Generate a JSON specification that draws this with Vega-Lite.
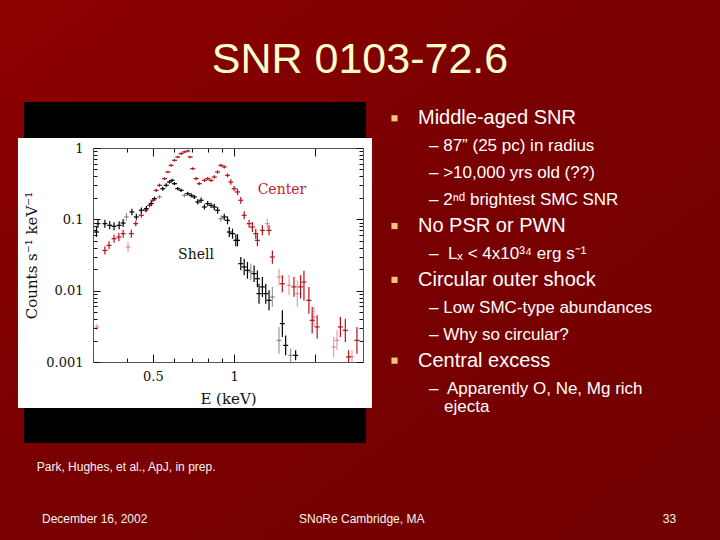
{
"$schema": "https://vega.github.io/schema/vega-lite/v6.json",
"width": 270, "height": 214,
"autosize": {"type": "none"},
"padding": {"left": 93, "top": 148, "right": 357, "bottom": 178},
"background": "#7a0000",
"config": {"view": {"stroke": null}},
"datasets": {
"spectrum": [
{"src":"Center","det":"B","keV":0.31,"rate":0.0031,"lo":0.0028,"hi":0.0034},
{"src":"Center","det":"A","keV":0.332,"rate":0.0367,"lo":0.0322,"hi":0.0418},
{"src":"Center","det":"A","keV":0.344,"rate":0.0432,"lo":0.038,"hi":0.0492},
{"src":"Center","det":"A","keV":0.359,"rate":0.0536,"lo":0.0471,"hi":0.061},
{"src":"Center","det":"A","keV":0.374,"rate":0.0565,"lo":0.0497,"hi":0.0643},
{"src":"Center","det":"A","keV":0.388,"rate":0.063,"lo":0.0554,"hi":0.0717},
{"src":"Center","det":"B","keV":0.4045,"rate":0.0409,"lo":0.0348,"hi":0.048},
{"src":"Center","det":"A","keV":0.416,"rate":0.063,"lo":0.0554,"hi":0.0717},
{"src":"Center","det":"A","keV":0.432,"rate":0.087,"lo":0.0798,"hi":0.0948},
{"src":"Center","det":"A","keV":0.453,"rate":0.114,"lo":0.105,"hi":0.124},
{"src":"Center","det":"A","keV":0.47,"rate":0.134,"lo":0.126,"hi":0.143},
{"src":"Center","det":"A","keV":0.486,"rate":0.157,"lo":0.147,"hi":0.168},
{"src":"Center","det":"A","keV":0.5,"rate":0.185,"lo":0.173,"hi":0.197},
{"src":"Center","det":"A","keV":0.514,"rate":0.255,"lo":0.242,"hi":0.269},
{"src":"Center","det":"A","keV":0.529,"rate":0.3,"lo":0.284,"hi":0.317},
{"src":"Center","det":"A","keV":0.552,"rate":0.372,"lo":0.356,"hi":0.388},
{"src":"Center","det":"A","keV":0.568,"rate":0.461,"lo":0.442,"hi":0.481},
{"src":"Center","det":"A","keV":0.584,"rate":0.571,"lo":0.547,"hi":0.596},
{"src":"Center","det":"A","keV":0.601,"rate":0.672,"lo":0.644,"hi":0.702},
{"src":"Center","det":"A","keV":0.618,"rate":0.748,"lo":0.716,"hi":0.781},
{"src":"Center","det":"A","keV":0.636,"rate":0.833,"lo":0.798,"hi":0.87},
{"src":"Center","det":"A","keV":0.654,"rate":0.879,"lo":0.842,"hi":0.918},
{"src":"Center","det":"A","keV":0.673,"rate":0.908,"lo":0.87,"hi":0.948},
{"src":"Center","det":"A","keV":0.687,"rate":0.748,"lo":0.716,"hi":0.781},
{"src":"Center","det":"A","keV":0.702,"rate":0.513,"lo":0.491,"hi":0.536},
{"src":"Center","det":"A","keV":0.723,"rate":0.372,"lo":0.353,"hi":0.392},
{"src":"Center","det":"A","keV":0.743,"rate":0.316,"lo":0.3,"hi":0.333},
{"src":"Center","det":"A","keV":0.776,"rate":0.352,"lo":0.334,"hi":0.371},
{"src":"Center","det":"A","keV":0.798,"rate":0.372,"lo":0.353,"hi":0.392},
{"src":"Center","det":"A","keV":0.821,"rate":0.352,"lo":0.334,"hi":0.371},
{"src":"Center","det":"A","keV":0.844,"rate":0.392,"lo":0.372,"hi":0.414},
{"src":"Center","det":"A","keV":0.868,"rate":0.461,"lo":0.437,"hi":0.486},
{"src":"Center","det":"A","keV":0.893,"rate":0.571,"lo":0.541,"hi":0.602},
{"src":"Center","det":"A","keV":0.919,"rate":0.542,"lo":0.514,"hi":0.572},
{"src":"Center","det":"A","keV":0.945,"rate":0.414,"lo":0.388,"hi":0.442},
{"src":"Center","det":"A","keV":0.972,"rate":0.334,"lo":0.306,"hi":0.364},
{"src":"Center","det":"A","keV":1.0,"rate":0.269,"lo":0.247,"hi":0.293},
{"src":"Center","det":"A","keV":1.029,"rate":0.242,"lo":0.217,"hi":0.27},
{"src":"Center","det":"A","keV":1.058,"rate":0.185,"lo":0.166,"hi":0.206},
{"src":"Center","det":"A","keV":1.089,"rate":0.114,"lo":0.1,"hi":0.13},
{"src":"Center","det":"A","keV":1.136,"rate":0.087,"lo":0.0765,"hi":0.099},
{"src":"Center","det":"A","keV":1.168,"rate":0.0781,"lo":0.0665,"hi":0.0918},
{"src":"Center","det":"A","keV":1.202,"rate":0.063,"lo":0.0536,"hi":0.074},
{"src":"Center","det":"A","keV":1.219,"rate":0.0508,"lo":0.0418,"hi":0.0617},
{"src":"Center","det":"A","keV":1.272,"rate":0.0701,"lo":0.0597,"hi":0.0824},
{"src":"Center","det":"B","keV":1.327,"rate":0.087,"lo":0.074,"hi":0.102},
{"src":"Center","det":"A","keV":1.346,"rate":0.0701,"lo":0.0597,"hi":0.0824},
{"src":"Center","det":"A","keV":1.385,"rate":0.0296,"lo":0.0239,"hi":0.0367},
{"src":"Center","det":"B","keV":1.466,"rate":0.0155,"lo":0.0118,"hi":0.0203},
{"src":"Center","det":"A","keV":1.508,"rate":0.0125,"lo":0.0095,"hi":0.0164},
{"src":"Center","det":"B","keV":1.596,"rate":0.0119,"lo":0.0086,"hi":0.0164},
{"src":"Center","det":"A","keV":1.665,"rate":0.0113,"lo":0.0082,"hi":0.0156},
{"src":"Center","det":"B","keV":1.713,"rate":0.00908,"lo":0.0059,"hi":0.014},
{"src":"Center","det":"A","keV":1.762,"rate":0.0113,"lo":0.00776,"hi":0.0165},
{"src":"Center","det":"A","keV":1.813,"rate":0.0132,"lo":0.0073,"hi":0.019},
{"src":"Center","det":"A","keV":1.891,"rate":0.00732,"lo":0.00476,"hi":0.0113},
{"src":"Center","det":"A","keV":1.945,"rate":0.00384,"lo":0.0025,"hi":0.0059},
{"src":"Center","det":"B","keV":1.973,"rate":0.00427,"lo":0.0031,"hi":0.0059},
{"src":"Center","det":"A","keV":2.029,"rate":0.0031,"lo":0.00213,"hi":0.00452},
{"src":"Center","det":"B","keV":2.336,"rate":0.00162,"lo":0.00117,"hi":0.00224},
{"src":"Center","det":"B","keV":2.403,"rate":0.00201,"lo":0.00146,"hi":0.00278},
{"src":"Center","det":"A","keV":2.474,"rate":0.0031,"lo":0.00224,"hi":0.00428},
{"src":"Center","det":"A","keV":2.58,"rate":0.00278,"lo":0.00191,"hi":0.00405},
{"src":"Center","det":"A","keV":2.654,"rate":0.00118,"lo":0.00095,"hi":0.00146},
{"src":"Center","det":"B","keV":2.731,"rate":0.00118,"lo":0.00095,"hi":0.00146},
{"src":"Center","det":"A","keV":2.849,"rate":0.00201,"lo":0.00131,"hi":0.0031},
{"src":"Shell","det":"A","keV":0.309,"rate":0.0664,"lo":0.0565,"hi":0.078},
{"src":"Shell","det":"A","keV":0.313,"rate":0.087,"lo":0.0765,"hi":0.099},
{"src":"Shell","det":"A","keV":0.332,"rate":0.087,"lo":0.0765,"hi":0.099},
{"src":"Shell","det":"A","keV":0.346,"rate":0.0824,"lo":0.0724,"hi":0.0938},
{"src":"Shell","det":"A","keV":0.359,"rate":0.0798,"lo":0.0701,"hi":0.0908},
{"src":"Shell","det":"A","keV":0.375,"rate":0.0824,"lo":0.0724,"hi":0.0938},
{"src":"Shell","det":"A","keV":0.388,"rate":0.0888,"lo":0.078,"hi":0.101},
{"src":"Shell","det":"B","keV":0.399,"rate":0.108,"lo":0.095,"hi":0.123},
{"src":"Shell","det":"A","keV":0.418,"rate":0.127,"lo":0.114,"hi":0.141},
{"src":"Shell","det":"A","keV":0.434,"rate":0.108,"lo":0.097,"hi":0.12},
{"src":"Shell","det":"A","keV":0.453,"rate":0.134,"lo":0.123,"hi":0.146},
{"src":"Shell","det":"A","keV":0.473,"rate":0.141,"lo":0.129,"hi":0.154},
{"src":"Shell","det":"A","keV":0.493,"rate":0.166,"lo":0.152,"hi":0.181},
{"src":"Shell","det":"A","keV":0.507,"rate":0.195,"lo":0.183,"hi":0.208},
{"src":"Shell","det":"B","keV":0.529,"rate":0.206,"lo":0.193,"hi":0.22},
{"src":"Shell","det":"A","keV":0.544,"rate":0.269,"lo":0.252,"hi":0.287},
{"src":"Shell","det":"A","keV":0.56,"rate":0.3,"lo":0.281,"hi":0.32},
{"src":"Shell","det":"A","keV":0.576,"rate":0.334,"lo":0.317,"hi":0.352},
{"src":"Shell","det":"A","keV":0.589,"rate":0.352,"lo":0.334,"hi":0.371},
{"src":"Shell","det":"A","keV":0.601,"rate":0.316,"lo":0.3,"hi":0.333},
{"src":"Shell","det":"A","keV":0.618,"rate":0.269,"lo":0.255,"hi":0.284},
{"src":"Shell","det":"A","keV":0.636,"rate":0.255,"lo":0.242,"hi":0.269},
{"src":"Shell","det":"B","keV":0.654,"rate":0.217,"lo":0.203,"hi":0.232},
{"src":"Shell","det":"A","keV":0.673,"rate":0.229,"lo":0.215,"hi":0.244},
{"src":"Shell","det":"A","keV":0.693,"rate":0.217,"lo":0.203,"hi":0.232},
{"src":"Shell","det":"A","keV":0.712,"rate":0.206,"lo":0.193,"hi":0.22},
{"src":"Shell","det":"A","keV":0.733,"rate":0.175,"lo":0.161,"hi":0.191},
{"src":"Shell","det":"A","keV":0.754,"rate":0.185,"lo":0.17,"hi":0.202},
{"src":"Shell","det":"A","keV":0.776,"rate":0.149,"lo":0.137,"hi":0.162},
{"src":"Shell","det":"A","keV":0.798,"rate":0.166,"lo":0.152,"hi":0.181},
{"src":"Shell","det":"A","keV":0.821,"rate":0.157,"lo":0.144,"hi":0.171},
{"src":"Shell","det":"A","keV":0.844,"rate":0.149,"lo":0.134,"hi":0.166},
{"src":"Shell","det":"A","keV":0.868,"rate":0.134,"lo":0.12,"hi":0.149},
{"src":"Shell","det":"B","keV":0.893,"rate":0.102,"lo":0.0916,"hi":0.114},
{"src":"Shell","det":"A","keV":0.919,"rate":0.108,"lo":0.097,"hi":0.12},
{"src":"Shell","det":"A","keV":0.945,"rate":0.0968,"lo":0.0851,"hi":0.11},
{"src":"Shell","det":"A","keV":0.959,"rate":0.0664,"lo":0.0565,"hi":0.078},
{"src":"Shell","det":"A","keV":0.986,"rate":0.063,"lo":0.0536,"hi":0.074},
{"src":"Shell","det":"A","keV":1.014,"rate":0.0508,"lo":0.0418,"hi":0.0617},
{"src":"Shell","det":"A","keV":1.029,"rate":0.0508,"lo":0.0418,"hi":0.0617},
{"src":"Shell","det":"A","keV":1.058,"rate":0.0239,"lo":0.0193,"hi":0.0296},
{"src":"Shell","det":"A","keV":1.089,"rate":0.0215,"lo":0.0164,"hi":0.0281},
{"src":"Shell","det":"A","keV":1.12,"rate":0.0193,"lo":0.0147,"hi":0.0253},
{"src":"Shell","det":"B","keV":1.152,"rate":0.0183,"lo":0.014,"hi":0.024},
{"src":"Shell","det":"A","keV":1.185,"rate":0.0173,"lo":0.0132,"hi":0.0226},
{"src":"Shell","det":"A","keV":1.219,"rate":0.0147,"lo":0.0112,"hi":0.0192},
{"src":"Shell","det":"A","keV":1.236,"rate":0.00908,"lo":0.00657,"hi":0.0125},
{"src":"Shell","det":"A","keV":1.272,"rate":0.0113,"lo":0.00818,"hi":0.0156},
{"src":"Shell","det":"A","keV":1.309,"rate":0.00908,"lo":0.00657,"hi":0.0125},
{"src":"Shell","det":"A","keV":1.346,"rate":0.00732,"lo":0.0053,"hi":0.0101},
{"src":"Shell","det":"B","keV":1.385,"rate":0.00815,"lo":0.0059,"hi":0.0113},
{"src":"Shell","det":"B","keV":1.466,"rate":0.00201,"lo":0.00131,"hi":0.0031},
{"src":"Shell","det":"A","keV":1.508,"rate":0.00345,"lo":0.00224,"hi":0.0053},
{"src":"Shell","det":"A","keV":1.551,"rate":0.00171,"lo":0.00124,"hi":0.00236},
{"src":"Shell","det":"B","keV":1.618,"rate":0.00124,"lo":0.001,"hi":0.00154},
{"src":"Shell","det":"A","keV":1.689,"rate":0.00124,"lo":0.00106,"hi":0.00146}
],
"bullets": [
{"line":1,"level":1,"wrap":false,"text":"Middle-aged SNR"},
{"line":2,"level":2,"wrap":false,"text":"– 87” (25 pc) in radius"},
{"line":3,"level":2,"wrap":false,"text":"– >10,000 yrs old (??)"},
{"line":4,"level":2,"wrap":false,"text":"– 2ⁿᵈ brightest SMC SNR"},
{"line":5,"level":1,"wrap":false,"text":"No PSR or PWN"},
{"line":6,"level":2,"wrap":false,"text":"–\u00a0 Lₓ < 4x10³⁴ erg s⁻¹"},
{"line":7,"level":1,"wrap":false,"text":"Circular outer shock"},
{"line":8,"level":2,"wrap":false,"text":"– Low SMC-type abundances"},
{"line":9,"level":2,"wrap":false,"text":"– Why so circular?"},
{"line":10,"level":1,"wrap":false,"text":"Central excess"},
{"line":11,"level":2,"wrap":false,"text":"–\u00a0 Apparently O, Ne, Mg rich"},
{"line":11.7,"level":2,"wrap":true,"text":"ejecta"}
]
},
"layer": [
{
"layer": [
{"data": {"values": [{}]},
 "mark": {"type": "rect", "fill": {"gradient": "linear", "x1": 0, "y1": 0, "x2": 1, "y2": 1, "stops": [{"offset": 0, "color": "#8e0000"}, {"offset": 0.45, "color": "#7a0000"}, {"offset": 1, "color": "#720000"}]}},
 "encoding": {
  "x": {"datum": 0, "type": "quantitative", "scale": {"domain": [0, 1], "range": [-93, 627], "nice": false, "zero": false}, "axis": null},
  "x2": {"datum": 1},
  "y": {"datum": 0, "type": "quantitative", "scale": {"domain": [0, 1], "range": [-148, 392], "nice": false, "zero": false}, "axis": null},
  "y2": {"datum": 1}}},
{"data": {"values": [{"title": "SNR 0103-72.6"}]},
 "mark": {"type": "text", "font": "Liberation Sans", "fontSize": 43, "color": "#FFFFCC", "align": "center", "baseline": "alphabetic"},
 "encoding": {"x": {"datum": 0.5, "type": "quantitative"}, "y": {"datum": 0.1352, "type": "quantitative"}, "text": {"field": "title"}}},
{"data": {"values": [{"note": "Park, Hughes, et al., ApJ, in prep."}]},
 "mark": {"type": "text", "font": "Liberation Sans", "fontSize": 12, "color": "#F4F4F4", "align": "left", "baseline": "alphabetic"},
 "encoding": {"x": {"datum": 0.051, "type": "quantitative"}, "y": {"datum": 0.873, "type": "quantitative"}, "text": {"field": "note"}}},
{"data": {"values": [{"note": "December 16, 2002"}]},
 "mark": {"type": "text", "font": "Liberation Sans", "fontSize": 12, "color": "#F4F4F4", "align": "left", "baseline": "alphabetic"},
 "encoding": {"x": {"datum": 0.0583, "type": "quantitative"}, "y": {"datum": 0.9685, "type": "quantitative"}, "text": {"field": "note"}}},
{"data": {"values": [{"note": "SNoRe Cambridge, MA"}]},
 "mark": {"type": "text", "font": "Liberation Sans", "fontSize": 12, "color": "#F4F4F4", "align": "left", "baseline": "alphabetic"},
 "encoding": {"x": {"datum": 0.4153, "type": "quantitative"}, "y": {"datum": 0.9685, "type": "quantitative"}, "text": {"field": "note"}}},
{"data": {"values": [{"note": "33"}]},
 "mark": {"type": "text", "font": "Liberation Sans", "fontSize": 12, "color": "#F4F4F4", "align": "right", "baseline": "alphabetic"},
 "encoding": {"x": {"datum": 0.939, "type": "quantitative"}, "y": {"datum": 0.9685, "type": "quantitative"}, "text": {"field": "note"}}}
]
},
{
"layer": [
{"data": {"values": [{}]},
 "mark": {"type": "rect", "fill": "#000000"},
 "encoding": {
  "x": {"datum": 0.1665, "type": "quantitative", "scale": {"type": "log", "domain": [0.3, 3], "nice": false}, "axis": null},
  "x2": {"datum": 3.077},
  "y": {"datum": 4.415, "type": "quantitative", "scale": {"type": "log", "domain": [0.001, 1], "nice": false}, "axis": null},
  "y2": {"datum": 0.0000732}}},
{"data": {"values": [{}]},
 "mark": {"type": "rect", "fill": "#FFFFFF"},
 "encoding": {
  "x": {"datum": 0.1582, "type": "quantitative", "scale": {"type": "log", "domain": [0.3, 3], "nice": false}, "axis": null},
  "x2": {"datum": 3.238},
  "y": {"datum": 1.381, "type": "quantitative", "scale": {"type": "log", "domain": [0.001, 1], "nice": false}, "axis": null},
  "y2": {"datum": 0.0002265}}},
{"data": {"name": "spectrum"},
 "mark": {"type": "rule", "clip": true, "strokeWidth": 1.2},
 "encoding": {
  "x": {"field": "keV", "type": "quantitative", "scale": {"type": "log", "domain": [0.3, 3], "nice": false},
   "axis": {"orient": "bottom", "values": [0.4, 0.5, 0.6, 0.7, 0.8, 0.9, 1, 2], "grid": false, "zindex": 1,
    "labelExpr": "datum.value == 0.5 ? '0.5' : (datum.value == 1 ? '1' : '')",
    "tickSize": {"condition": {"test": "datum.value == 0.5 || datum.value == 1 || datum.value == 2", "value": -8}, "value": -4},
    "tickColor": "#111111", "tickWidth": 1, "domainColor": "#555555", "domainWidth": 1,
    "labelFont": "DejaVu Serif", "labelFontSize": 13, "labelColor": "#111111", "labelPadding": 16, "labelFlush": false, "labelOverlap": false,
    "title": "E (keV)", "titleFont": "DejaVu Serif", "titleFontSize": 15, "titleFontWeight": "normal", "titleColor": "#111111", "titlePadding": 4}},
  "y": {"field": "lo", "type": "quantitative", "scale": {"type": "log", "domain": [0.001, 1], "nice": false},
   "axis": {"orient": "left", "values": [0.001, 0.002, 0.003, 0.004, 0.005, 0.006, 0.007, 0.008, 0.009, 0.01, 0.02, 0.03, 0.04, 0.05, 0.06, 0.07, 0.08, 0.09, 0.1, 0.2, 0.3, 0.4, 0.5, 0.6, 0.7, 0.8, 0.9, 1], "grid": false, "zindex": 1,
    "labelExpr": "datum.value == 1 ? '1' : (datum.value == 0.1 ? '0.1' : (datum.value == 0.01 ? '0.01' : (datum.value == 0.001 ? '0.001' : '')))",
    "tickSize": {"condition": {"test": "datum.value == 1 || datum.value == 0.1 || datum.value == 0.01 || datum.value == 0.001", "value": -7}, "value": -4},
    "tickColor": "#111111", "tickWidth": 1, "domainColor": "#555555", "domainWidth": 1,
    "labelFont": "DejaVu Serif", "labelFontSize": 13, "labelColor": "#111111", "labelPadding": 17, "labelFlush": false, "labelOverlap": false,
    "title": "Counts s⁻¹ keV⁻¹", "titleFont": "DejaVu Serif", "titleFontSize": 15, "titleFontWeight": "normal", "titleColor": "#111111", "titlePadding": 6}},
  "y2": {"field": "hi"},
  "color": {"field": "src", "type": "nominal", "scale": {"domain": ["Center", "Shell"], "range": ["#b5121c", "#000000"]}, "legend": null},
  "opacity": {"field": "det", "type": "ordinal", "scale": {"domain": ["A", "B"], "range": [1, 0.4]}, "legend": null}}},
{"data": {"name": "spectrum"},
 "mark": {"type": "tick", "orient": "horizontal", "clip": true, "size": 5, "thickness": 1.2},
 "encoding": {
  "x": {"field": "keV", "type": "quantitative", "scale": {"type": "log", "domain": [0.3, 3], "nice": false},
   "axis": {"orient": "top", "values": [0.4, 0.5, 0.6, 0.7, 0.8, 0.9, 1, 2], "grid": false, "zindex": 1, "labels": false, "title": null,
    "tickSize": {"condition": {"test": "datum.value == 0.5 || datum.value == 1 || datum.value == 2", "value": -8}, "value": -4},
    "tickColor": "#111111", "tickWidth": 1, "domainColor": "#555555", "domainWidth": 1}},
  "y": {"field": "rate", "type": "quantitative", "scale": {"type": "log", "domain": [0.001, 1], "nice": false},
   "axis": {"orient": "right", "values": [0.001, 0.002, 0.003, 0.004, 0.005, 0.006, 0.007, 0.008, 0.009, 0.01, 0.02, 0.03, 0.04, 0.05, 0.06, 0.07, 0.08, 0.09, 0.1, 0.2, 0.3, 0.4, 0.5, 0.6, 0.7, 0.8, 0.9, 1], "grid": false, "zindex": 1, "labels": false, "title": null,
    "tickSize": {"condition": {"test": "datum.value == 1 || datum.value == 0.1 || datum.value == 0.01 || datum.value == 0.001", "value": -7}, "value": -4},
    "tickColor": "#111111", "tickWidth": 1, "domainColor": "#555555", "domainWidth": 1}},
  "color": {"field": "src", "type": "nominal", "scale": {"domain": ["Center", "Shell"], "range": ["#b5121c", "#000000"]}, "legend": null},
  "opacity": {"field": "det", "type": "ordinal", "scale": {"domain": ["A", "B"], "range": [1, 0.4]}, "legend": null}}},
{"data": {"values": [{"label": "Center"}]},
 "mark": {"type": "text", "font": "DejaVu Serif", "fontSize": 14, "color": "#c0262e", "align": "center", "baseline": "middle"},
 "encoding": {
  "x": {"datum": 1.503, "type": "quantitative", "scale": {"type": "log", "domain": [0.3, 3], "nice": false}, "axis": null},
  "y": {"datum": 0.258, "type": "quantitative", "scale": {"type": "log", "domain": [0.001, 1], "nice": false}, "axis": null},
  "text": {"field": "label"}}},
{"data": {"values": [{"label": "Shell"}]},
 "mark": {"type": "text", "font": "DejaVu Serif", "fontSize": 14, "color": "#111111", "align": "center", "baseline": "middle"},
 "encoding": {
  "x": {"datum": 0.722, "type": "quantitative", "scale": {"type": "log", "domain": [0.3, 3], "nice": false}, "axis": null},
  "y": {"datum": 0.0316, "type": "quantitative", "scale": {"type": "log", "domain": [0.001, 1], "nice": false}, "axis": null},
  "text": {"field": "label"}}}
],
"resolve": {"axis": {"x": "independent", "y": "independent"}}
},
{
"data": {"name": "bullets"},
"encoding": {
 "x": {"field": "level", "type": "quantitative", "scale": {"domain": [1, 2], "range": [325, 336], "nice": false, "zero": false}, "axis": null},
 "y": {"field": "line", "type": "quantitative", "scale": {"domain": [1, 11], "range": [-23.7, 245.6], "nice": false, "zero": false}, "axis": null}
},
"layer": [
{"transform": [{"filter": "datum.level == 1"}],
 "mark": {"type": "point", "shape": "square", "filled": true, "size": 38, "color": "#F5C478", "opacity": 1, "xOffset": -23.5, "yOffset": -6}},
{"transform": [{"filter": "datum.level == 1"}],
 "mark": {"type": "text", "font": "Liberation Sans", "fontSize": 20, "color": "#FFFFFF", "align": "left", "baseline": "alphabetic"},
 "encoding": {"text": {"field": "text"}}},
{"transform": [{"filter": "datum.level == 2 && !datum.wrap"}],
 "mark": {"type": "text", "font": "Liberation Sans", "fontSize": 17, "color": "#FFFFFF", "align": "left", "baseline": "alphabetic"},
 "encoding": {"text": {"field": "text"}}},
{"transform": [{"filter": "datum.wrap"}],
 "mark": {"type": "text", "font": "Liberation Sans", "fontSize": 17, "color": "#FFFFFF", "align": "left", "baseline": "alphabetic", "dx": 15},
 "encoding": {"text": {"field": "text"}}}
]
}
],
"resolve": {"scale": {"x": "independent", "y": "independent"}, "axis": {"x": "independent", "y": "independent"}}
}
